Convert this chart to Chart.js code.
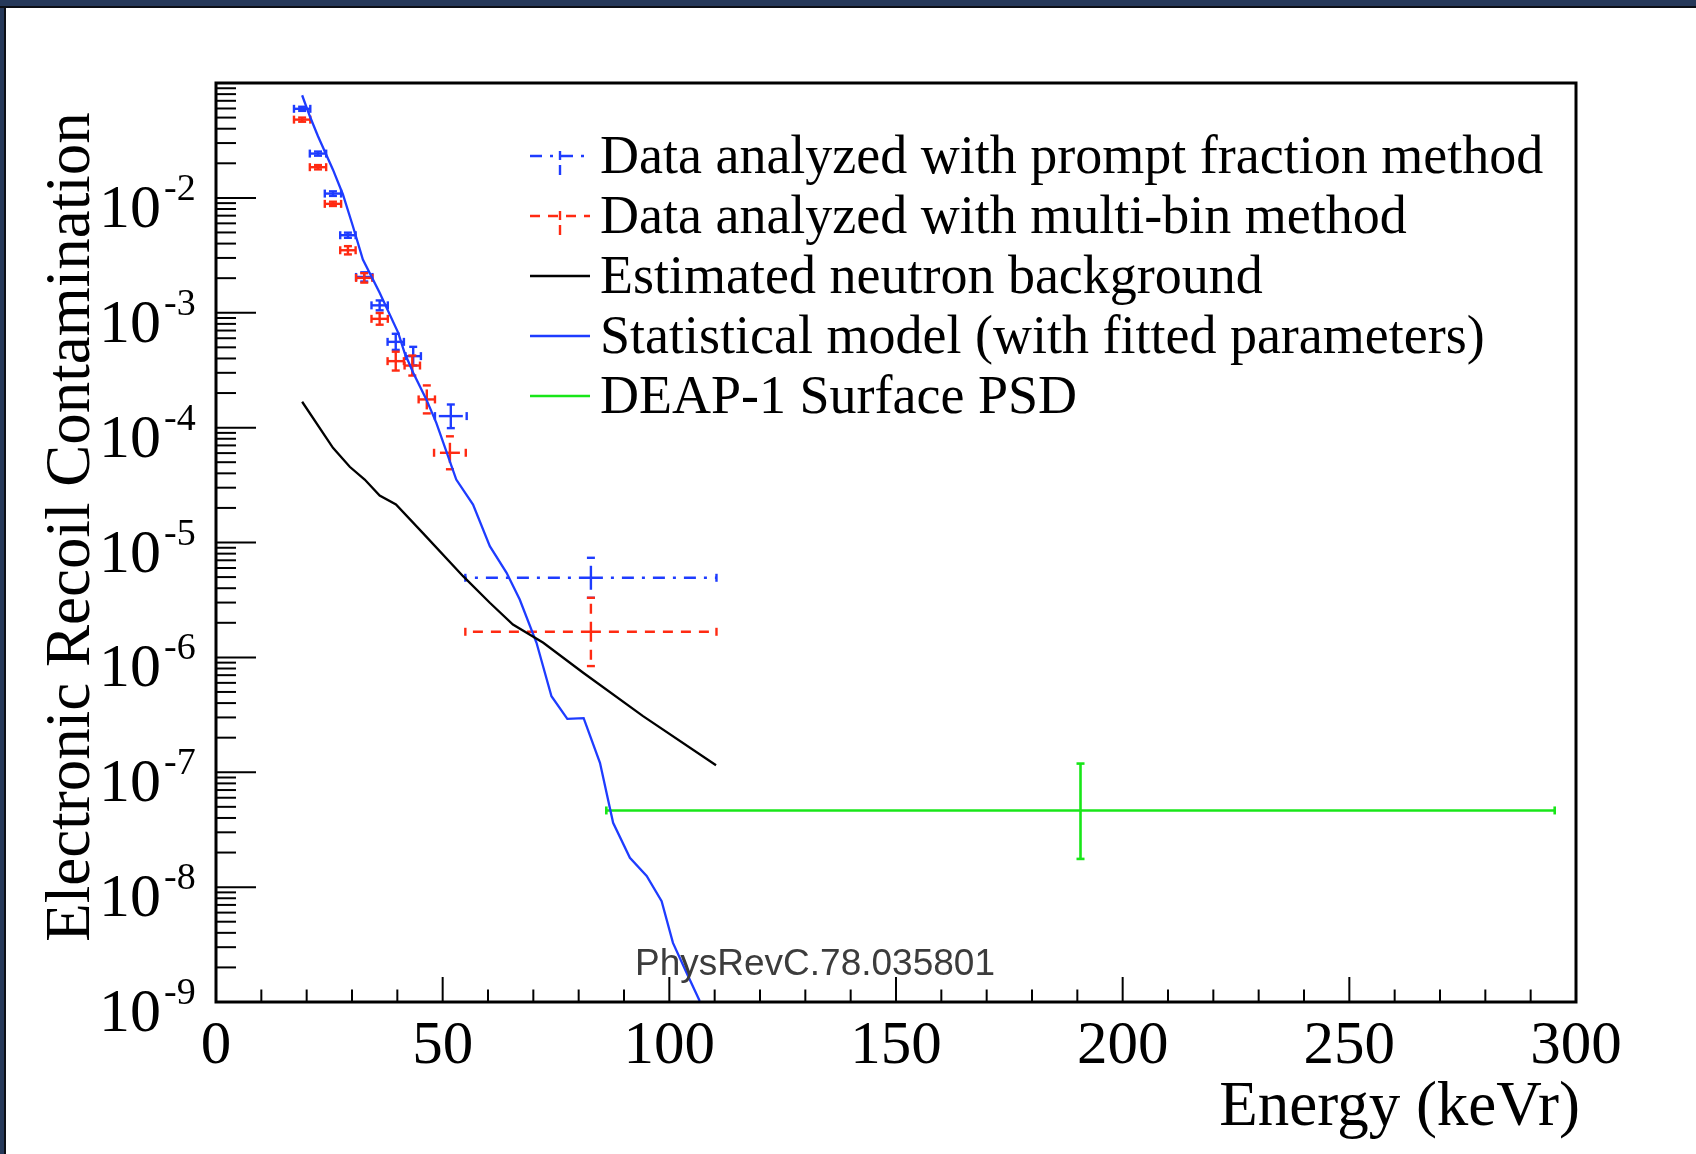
<!DOCTYPE html>
<html>
<head>
<meta charset="utf-8">
<script src="https://cdn.jsdelivr.net/npm/chart.js@4.4.1/dist/chart.umd.min.js"></script>
<style>
  html, body { margin: 0; padding: 0; background: #fff; }
  #contenedorGrafica { position: relative; width: 1696px; height: 1154px; }
</style>
</head>
<body>
<div id="contenedorGrafica"><canvas id="miGrafica" width="1696" height="1154"></canvas></div>
<script>
// statistical model (fitted parameters)
var modeloEnergia = [19.0, 20.7, 22.5, 25.8, 28.0, 30.2, 32.4, 36.1, 40.2, 41.6, 43.5, 46.4, 48.6, 53.0, 56.7, 60.4, 64.1, 67.0, 70.7, 74.0, 77.5, 81.1, 84.7, 87.6, 91.3, 95.0, 98.3, 100.8, 103.8, 106.7]
var modeloValor = [0.0782, 0.0513, 0.0344, 0.0176, 0.0107, 0.00566, 0.0029, 0.00149, 6.68e-4, 4.48e-4, 3.0e-4, 1.76e-4, 1.10e-4, 3.53e-5, 2.14e-5, 9.29e-6, 5.45e-6, 3.19e-6, 1.34e-6, 4.59e-7, 2.92e-7, 2.96e-7, 1.21e-7, 3.63e-8, 1.80e-8, 1.25e-8, 7.55e-9, 3.27e-9, 1.80e-9, 1.02e-9]

// estimated neutron background
var fondoEnergia = [19.0, 25.8, 29.5, 32.8, 36.1, 39.7, 45.7, 54.5, 60.4, 65.5, 72.2, 81.0, 94.2, 110.3]
var fondoValor = [1.68e-4, 6.67e-5, 4.56e-5, 3.53e-5, 2.56e-5, 2.14e-5, 1.20e-5, 5.09e-6, 2.99e-6, 1.93e-6, 1.34e-6, 7.35e-7, 3.08e-7, 1.15e-7]

// prompt fraction method
var pfEnergia = [19.0, 22.5, 25.8, 29.1, 32.7, 36.1, 39.65, 43.5, 51.8, 82.7]
var pfErrX = [1.8, 1.8, 1.8, 1.7, 1.8, 1.8, 1.8, 1.7, 3.5, 27.7]
var pfValor = [0.0596, 0.0243, 0.0109, 0.00473, 0.00205, 0.00116, 0.000558, 0.000419, 0.000126, 4.93e-6]
var pfBajo = [0.0572, 0.0233, 0.0104, 0.00449, 0.00187, 0.00105, 0.000475, 0.000348, 0.000099, 3.30e-6]
var pfAlto = [0.0621, 0.0253, 0.0114, 0.00498, 0.00225, 0.00128, 0.000656, 0.000505, 0.000159, 7.36e-6]

// multi-bin method
var mbEnergia = [19.0, 22.5, 25.8, 29.1, 32.7, 36.1, 39.65, 43.3, 46.5, 51.6, 82.7]
var mbErrX = [1.8, 1.8, 1.8, 1.7, 1.8, 1.8, 1.8, 1.7, 1.8, 3.5, 27.7]
var mbValor = [0.048, 0.0185, 0.00887, 0.0035, 0.00201, 0.000885, 0.000379, 0.000347, 0.000176, 6.04e-5, 1.67e-6]
var mbBajo = [0.046, 0.0177, 0.0085, 0.00322, 0.00183, 0.000787, 0.000314, 0.000284, 0.000133, 4.34e-5, 8.4e-7]
var mbAlto = [0.050, 0.0193, 0.00926, 0.0038, 0.00221, 0.000995, 0.000458, 0.000424, 0.000233, 8.4e-5, 3.30e-6]

// DEAP-1 surface PSD
var psdEnergia = [190.7]
var psdErrX = [104.6]
var psdValor = [4.65e-8]
var psdBajo = [1.76e-8]
var psdAlto = [1.19e-7]

var xMarcas = [0, 50, 100, 150, 200, 250, 300]
var yExponentes = [-9, -8, -7, -6, -5, -4, -3, -2]

var leyenda = [
    'Data analyzed with prompt fraction method',
    'Data analyzed with multi-bin method',
    'Estimated neutron background',
    'Statistical model (with fitted parameters)',
    'DEAP-1 Surface PSD'
]

var AZUL = '#1e3cff'
var ROJO = '#ff2a12'
var VERDE = '#18e618'
var SERIF = '"Liberation Serif", "Times New Roman", serif'

function puntos(xs, ys) {
    return xs.map(function (x, i) { return { x: x, y: ys[i] } })
}

function linea(ctx, x1, y1, x2, y2) {
    ctx.beginPath()
    ctx.moveTo(x1, y1)
    ctx.lineTo(x2, y2)
    ctx.stroke()
}

function dibujarErrores(chart) {
    var ctx = chart.ctx
    var sx = chart.scales.x, sy = chart.scales.y
    chart.data.datasets.forEach(function (ds) {
        var b = ds.barras
        if (!b) return
        ctx.save()
        ctx.strokeStyle = ds.borderColor
        ctx.lineWidth = b.grosor
        for (var i = 0; i < b.x.length; i++) {
            var cx = sx.getPixelForValue(b.x[i])
            var cy = sy.getPixelForValue(b.y[i])
            var x1 = sx.getPixelForValue(b.x[i] - b.ex[i])
            var x2 = sx.getPixelForValue(b.x[i] + b.ex[i])
            var y1 = sy.getPixelForValue(b.bajo[i])
            var y2 = sy.getPixelForValue(b.alto[i])
            ctx.setLineDash(b.patron)
            linea(ctx, cx, cy, x1, cy)
            linea(ctx, cx, cy, x2, cy)
            linea(ctx, cx, cy, cx, y1)
            linea(ctx, cx, cy, cx, y2)
            ctx.setLineDash([])
            linea(ctx, x1, cy - 4, x1, cy + 4)
            linea(ctx, x2, cy - 4, x2, cy + 4)
            linea(ctx, cx - 4, y1, cx + 4, y1)
            linea(ctx, cx - 4, y2, cx + 4, y2)
        }
        ctx.restore()
    })
}

function dibujarEjes(chart) {
    var ctx = chart.ctx
    var a = chart.chartArea
    var sx = chart.scales.x, sy = chart.scales.y
    ctx.save()
    ctx.strokeStyle = '#000'
    ctx.lineWidth = 2
    for (var v = 0; v <= 300; v += 10) {
        var px = sx.getPixelForValue(v)
        linea(ctx, px, a.bottom, px, a.bottom - (v % 50 === 0 ? 25 : 12.5))
    }
    for (var e = -9; e < -1; e++) {
        for (var m = 1; m < 10; m++) {
            var py = sy.getPixelForValue(m * Math.pow(10, e))
            linea(ctx, a.left, py, a.left + (m === 1 ? 40 : 20), py)
        }
    }
    ctx.lineWidth = 3
    ctx.strokeRect(a.left, a.top, a.right - a.left, a.bottom - a.top)

    ctx.fillStyle = '#000'
    // x tick labels
    ctx.font = '61px ' + SERIF
    ctx.textAlign = 'center'
    ctx.textBaseline = 'alphabetic'
    xMarcas.forEach(function (v) {
        ctx.fillText(String(v), sx.getPixelForValue(v), 1063)
    })
    // y tick labels 10^n
    yExponentes.forEach(function (e) {
        var py = sy.getPixelForValue(Math.pow(10, e))
        ctx.font = '62px ' + SERIF
        ctx.textAlign = 'right'
        ctx.fillText('10', 161, py + 29)
        ctx.font = '38px ' + SERIF
        ctx.textAlign = 'left'
        ctx.fillText(String(e), 164, py + 2)
    })
    // axis titles
    ctx.font = '63px ' + SERIF
    ctx.textAlign = 'right'
    ctx.fillText('Energy (keVr)', 1580, 1125)
    ctx.save()
    ctx.translate(89, 527)
    ctx.rotate(-Math.PI / 2)
    ctx.textAlign = 'center'
    ctx.fillText('Electronic Recoil Contamination', 0, 0)
    ctx.restore()

    // watermark
    ctx.font = '37px "Liberation Sans", Arial, sans-serif'
    ctx.fillStyle = '#3c3c3c'
    ctx.textAlign = 'left'
    ctx.fillText('PhysRevC.78.035801', 635, 975)
    ctx.restore()
}

function dibujarLeyenda(chart) {
    var ctx = chart.ctx
    ctx.save()
    ctx.font = '54px ' + SERIF
    ctx.fillStyle = '#000'
    ctx.textAlign = 'left'
    ctx.textBaseline = 'alphabetic'
    var colores = [AZUL, ROJO, '#000', AZUL, VERDE]
    var patrones = [[12, 8, 3, 8], [10, 8], [], [], []]
    for (var i = 0; i < leyenda.length; i++) {
        var base = 173 + i * 60
        var ly = base - 17
        ctx.strokeStyle = colores[i]
        ctx.lineWidth = 2.4
        ctx.setLineDash(patrones[i])
        linea(ctx, 530, ly, 590, ly)
        ctx.setLineDash([])
        if (i < 2) {
            linea(ctx, 560, ly - 5, 560, ly + 4)
            linea(ctx, 560, ly + 9, 560, ly + 19)
        }
        ctx.fillText(leyenda[i], 600, base)
    }
    ctx.restore()
}

var pluginMarco = {
    id: 'marco',
    beforeDraw: function (chart) {
        var ctx = chart.ctx
        ctx.save()
        ctx.fillStyle = '#fff'
        ctx.fillRect(0, 0, chart.width, chart.height)
        ctx.fillStyle = '#26395a'
        ctx.fillRect(0, 0, chart.width, 6)
        ctx.fillRect(0, 0, 4, chart.height)
        ctx.fillStyle = '#0c0f16'
        ctx.fillRect(0, 6, chart.width, 2)
        ctx.fillRect(4, 6, 2, chart.height)
        ctx.restore()
    },
    beforeDatasetsDraw: function (chart) {
        dibujarErrores(chart)
    },
    afterDatasetsDraw: function (chart) {
        dibujarEjes(chart)
        dibujarLeyenda(chart)
    }
}

function generarGrafica() {
    var graf = new Chart('miGrafica', {
        type: 'line',
        data: {
            datasets: [
                {
                    label: leyenda[0],
                    data: puntos(pfEnergia, pfValor),
                    borderColor: AZUL,
                    showLine: false,
                    pointRadius: 0,
                    barras: { x: pfEnergia, y: pfValor, ex: pfErrX, bajo: pfBajo, alto: pfAlto, patron: [12, 8, 3, 8], grosor: 2.4 }
                },
                {
                    label: leyenda[1],
                    data: puntos(mbEnergia, mbValor),
                    borderColor: ROJO,
                    showLine: false,
                    pointRadius: 0,
                    barras: { x: mbEnergia, y: mbValor, ex: mbErrX, bajo: mbBajo, alto: mbAlto, patron: [10, 8], grosor: 2.4 }
                },
                {
                    label: leyenda[4],
                    data: puntos(psdEnergia, psdValor),
                    borderColor: VERDE,
                    showLine: false,
                    pointRadius: 0,
                    barras: { x: psdEnergia, y: psdValor, ex: psdErrX, bajo: psdBajo, alto: psdAlto, patron: [], grosor: 2.6 }
                },
                {
                    label: leyenda[2],
                    data: puntos(fondoEnergia, fondoValor),
                    borderColor: '#000',
                    borderWidth: 2.3,
                    pointRadius: 0,
                    tension: 0,
                    fill: false
                },
                {
                    label: leyenda[3],
                    data: puntos(modeloEnergia, modeloValor),
                    borderColor: AZUL,
                    borderWidth: 2.3,
                    pointRadius: 0,
                    tension: 0,
                    fill: false
                }
            ]
        },
        options: {
            responsive: false,
            animation: false,
            devicePixelRatio: 1,
            layout: { padding: { left: 216, top: 83, right: 120, bottom: 152 } },
            plugins: { legend: { display: false }, tooltip: { enabled: false } },
            scales: {
                x: { type: 'linear', min: 0, max: 300, display: false },
                y: { type: 'logarithmic', min: 1e-9, max: 0.1, display: false }
            }
        },
        plugins: [pluginMarco]
    })
    return graf
}

generarGrafica()
</script>
</body>
</html>
